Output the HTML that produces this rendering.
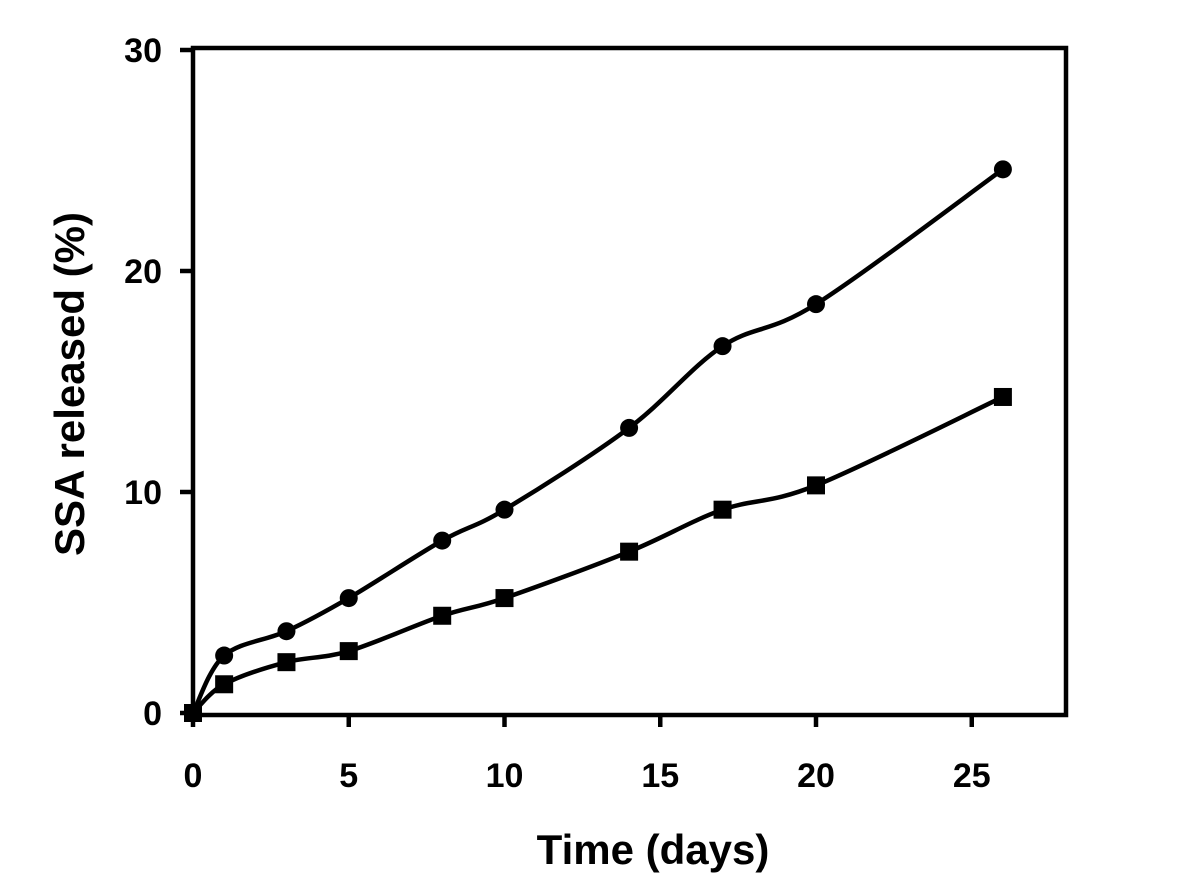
<!DOCTYPE html>
<html><head><meta charset="utf-8"><style>
html,body{margin:0;padding:0;background:#fff;}
svg text{font-family:"Liberation Sans",Arial,sans-serif;font-weight:bold;fill:#000;}
</style></head><body>
<svg id="chart" width="1181" height="886" viewBox="0 0 1181 886" xmlns="http://www.w3.org/2000/svg">
<rect x="193" y="48" width="873" height="667" fill="none" stroke="#000" stroke-width="4.5"/>
<g id="axes"></g>
<g id="series"></g>
<text x="653" y="864" font-size="42" text-anchor="middle">Time (days)</text>
<text transform="translate(84,384) rotate(-90)" font-size="42" text-anchor="middle">SSA released (%)</text>
</svg>
<script>
const days = [0, 1, 3, 5, 8, 10, 14, 17, 20, 26];
const circleSeries = [0, 2.6, 3.7, 5.2, 7.8, 9.2, 12.9, 16.6, 18.5, 24.6];
const squareSeries = [0, 1.3, 2.3, 2.8, 4.4, 5.2, 7.3, 9.2, 10.3, 14.3];
const xTicks = [0, 5, 10, 15, 20, 25];
const yTicks = [0, 10, 20, 30];

const NS = "http://www.w3.org/2000/svg";
function X(v){ return 193 + v * 31.15; }
function Y(v){ return 713 - v * 22.1; }
function mk(tag, attrs, parent){
  const e = document.createElementNS(NS, tag);
  for (const k in attrs) e.setAttribute(k, attrs[k]);
  parent.appendChild(e);
  return e;
}
const axes = document.getElementById('axes');
xTicks.forEach(t => {
  const l = mk('line', {x1:X(t), x2:X(t), y1:715, y2:727, stroke:'#000', 'stroke-width':4.5}, axes);
  
  
  const tx = mk('text', {x:X(t), y:787, 'font-size':34, 'text-anchor':'middle'}, axes);
  tx.textContent = t;
  
  
});
yTicks.forEach(t => {
  const l = mk('line', {x1:180, x2:193, y1:Y(t), y2:Y(t), stroke:'#000', 'stroke-width':4.5}, axes);
  
  
  const tx = mk('text', {x:162, y:Y(t)+12, 'font-size':34, 'text-anchor':'end'}, axes);
  tx.textContent = t;
  
  
});
function smooth(pts){
  let d = `M${pts[0][0]},${pts[0][1]}`;
  for (let i=0;i<pts.length-1;i++){
    const p0 = pts[Math.max(0,i-1)], p1 = pts[i], p2 = pts[i+1], p3 = pts[Math.min(pts.length-1,i+2)];
    const c1 = [p1[0]+(p2[0]-p0[0])/6, p1[1]+(p2[1]-p0[1])/6];
    const c2 = [p2[0]-(p3[0]-p1[0])/6, p2[1]-(p3[1]-p1[1])/6];
    d += ` C${c1[0]},${c1[1]} ${c2[0]},${c2[1]} ${p2[0]},${p2[1]}`;
  }
  return d;
}
const series = document.getElementById('series');
function draw(vals, shape){
  const pts = days.map((d,i)=>[X(d), Y(vals[i])]);
  const p = mk('path', {d:smooth(pts), fill:'none', stroke:'#000', 'stroke-width':4.5}, series);
  
  
  pts.forEach(pt => {
    let m;
    if (shape === 'circle') m = mk('circle', {cx:pt[0], cy:pt[1], r:9, fill:'#000'}, series);
    else m = mk('rect', {x:pt[0]-9, y:pt[1]-9, width:18, height:18, fill:'#000'}, series);
    
    
  });
}
draw(circleSeries, 'circle');
draw(squareSeries, 'square');
</script>
</body></html>
